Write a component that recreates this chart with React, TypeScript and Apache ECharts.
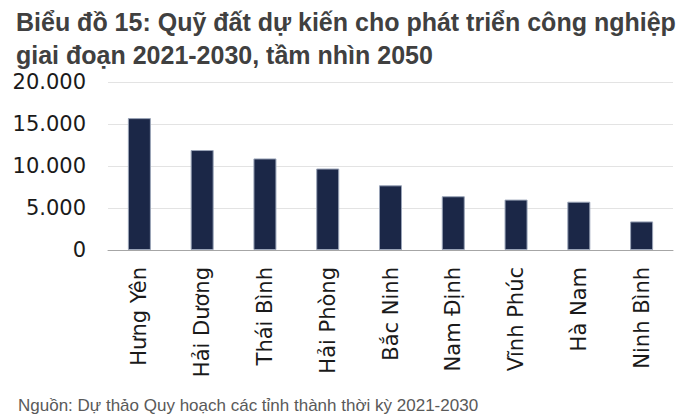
import React, { useEffect, useRef } from "react";
import * as echarts from "echarts";

const titleLines = [
  "Biểu đồ 15: Quỹ đất dự kiến cho phát triển công nghiệp",
  "giai đoạn 2021-2030, tầm nhìn 2050",
];
const sourceText = "Nguồn: Dự thảo Quy hoạch các tỉnh thành thời kỳ 2021-2030";
const categories = [
  "Hưng Yên",
  "Hải Dương",
  "Thái Bình",
  "Hải Phòng",
  "Bắc Ninh",
  "Nam Định",
  "Vĩnh Phúc",
  "Hà Nam",
  "Ninh Bình",
];
const landArea = [15700, 11900, 10900, 9700, 7700, 6400, 6000, 5750, 3400];
const yMin = 0;
const yMax = 20000;
const yStep = 5000;

const fmt = (v: number) =>
  String(Math.round(v)).replace(/\B(?=(\d{3})+(?!\d))/g, ".");

export default function App() {
  const ref = useRef<HTMLDivElement>(null);
  useEffect(() => {
    if (!ref.current) return;
    const chart = echarts.init(ref.current, null, { renderer: "svg" });
    chart.setOption({
      animation: false,
      backgroundColor: "#ffffff",
      title: [
        {
          text: titleLines.join("\n"),
          left: 11,
          top: 0,
          textStyle: {
            fontFamily: "Liberation Sans",
            fontWeight: "bold",
            fontSize: 25,
            lineHeight: 33,
            color: "#404040",
          },
        },
        {
          text: sourceText,
          left: 13,
          top: 392,
          textStyle: {
            fontFamily: "Liberation Sans",
            fontWeight: "normal",
            fontSize: 17,
            color: "#595959",
          },
        },
      ],
      grid: { left: 108, right: 27, top: 82, bottom: 166 },
      xAxis: {
        type: "category",
        data: categories,
        axisLine: { lineStyle: { color: "#a6a6a6", width: 1 } },
        axisTick: { alignWithLabel: true, length: 5, lineStyle: { color: "#a6a6a6" } },
        axisLabel: {
          rotate: 90,
          margin: 17,
          interval: 0,
          fontFamily: "DejaVu Sans",
          fontSize: 21,
          color: "#1a1a1a",
        },
      },
      yAxis: {
        type: "value",
        min: yMin,
        max: yMax,
        interval: yStep,
        axisLine: { show: false },
        axisTick: { show: false },
        splitLine: { lineStyle: { color: "#e3e3e3", width: 1 } },
        axisLabel: {
          formatter: (v: number) => fmt(v),
          margin: 22,
          fontFamily: "DejaVu Sans",
          fontSize: 21,
          color: "#1a1a1a",
        },
      },
      series: [
        {
          type: "bar",
          data: landArea,
          barWidth: 23,
          itemStyle: {
            color: "#1b2747",
            borderColor: "#9aa4b8",
            borderWidth: 1,
          },
        },
      ],
    });
    return () => chart.dispose();
  }, []);
  return <div ref={ref} style={{ width: 700, height: 416, position: "absolute", left: 0, top: 0 }} />;
}
